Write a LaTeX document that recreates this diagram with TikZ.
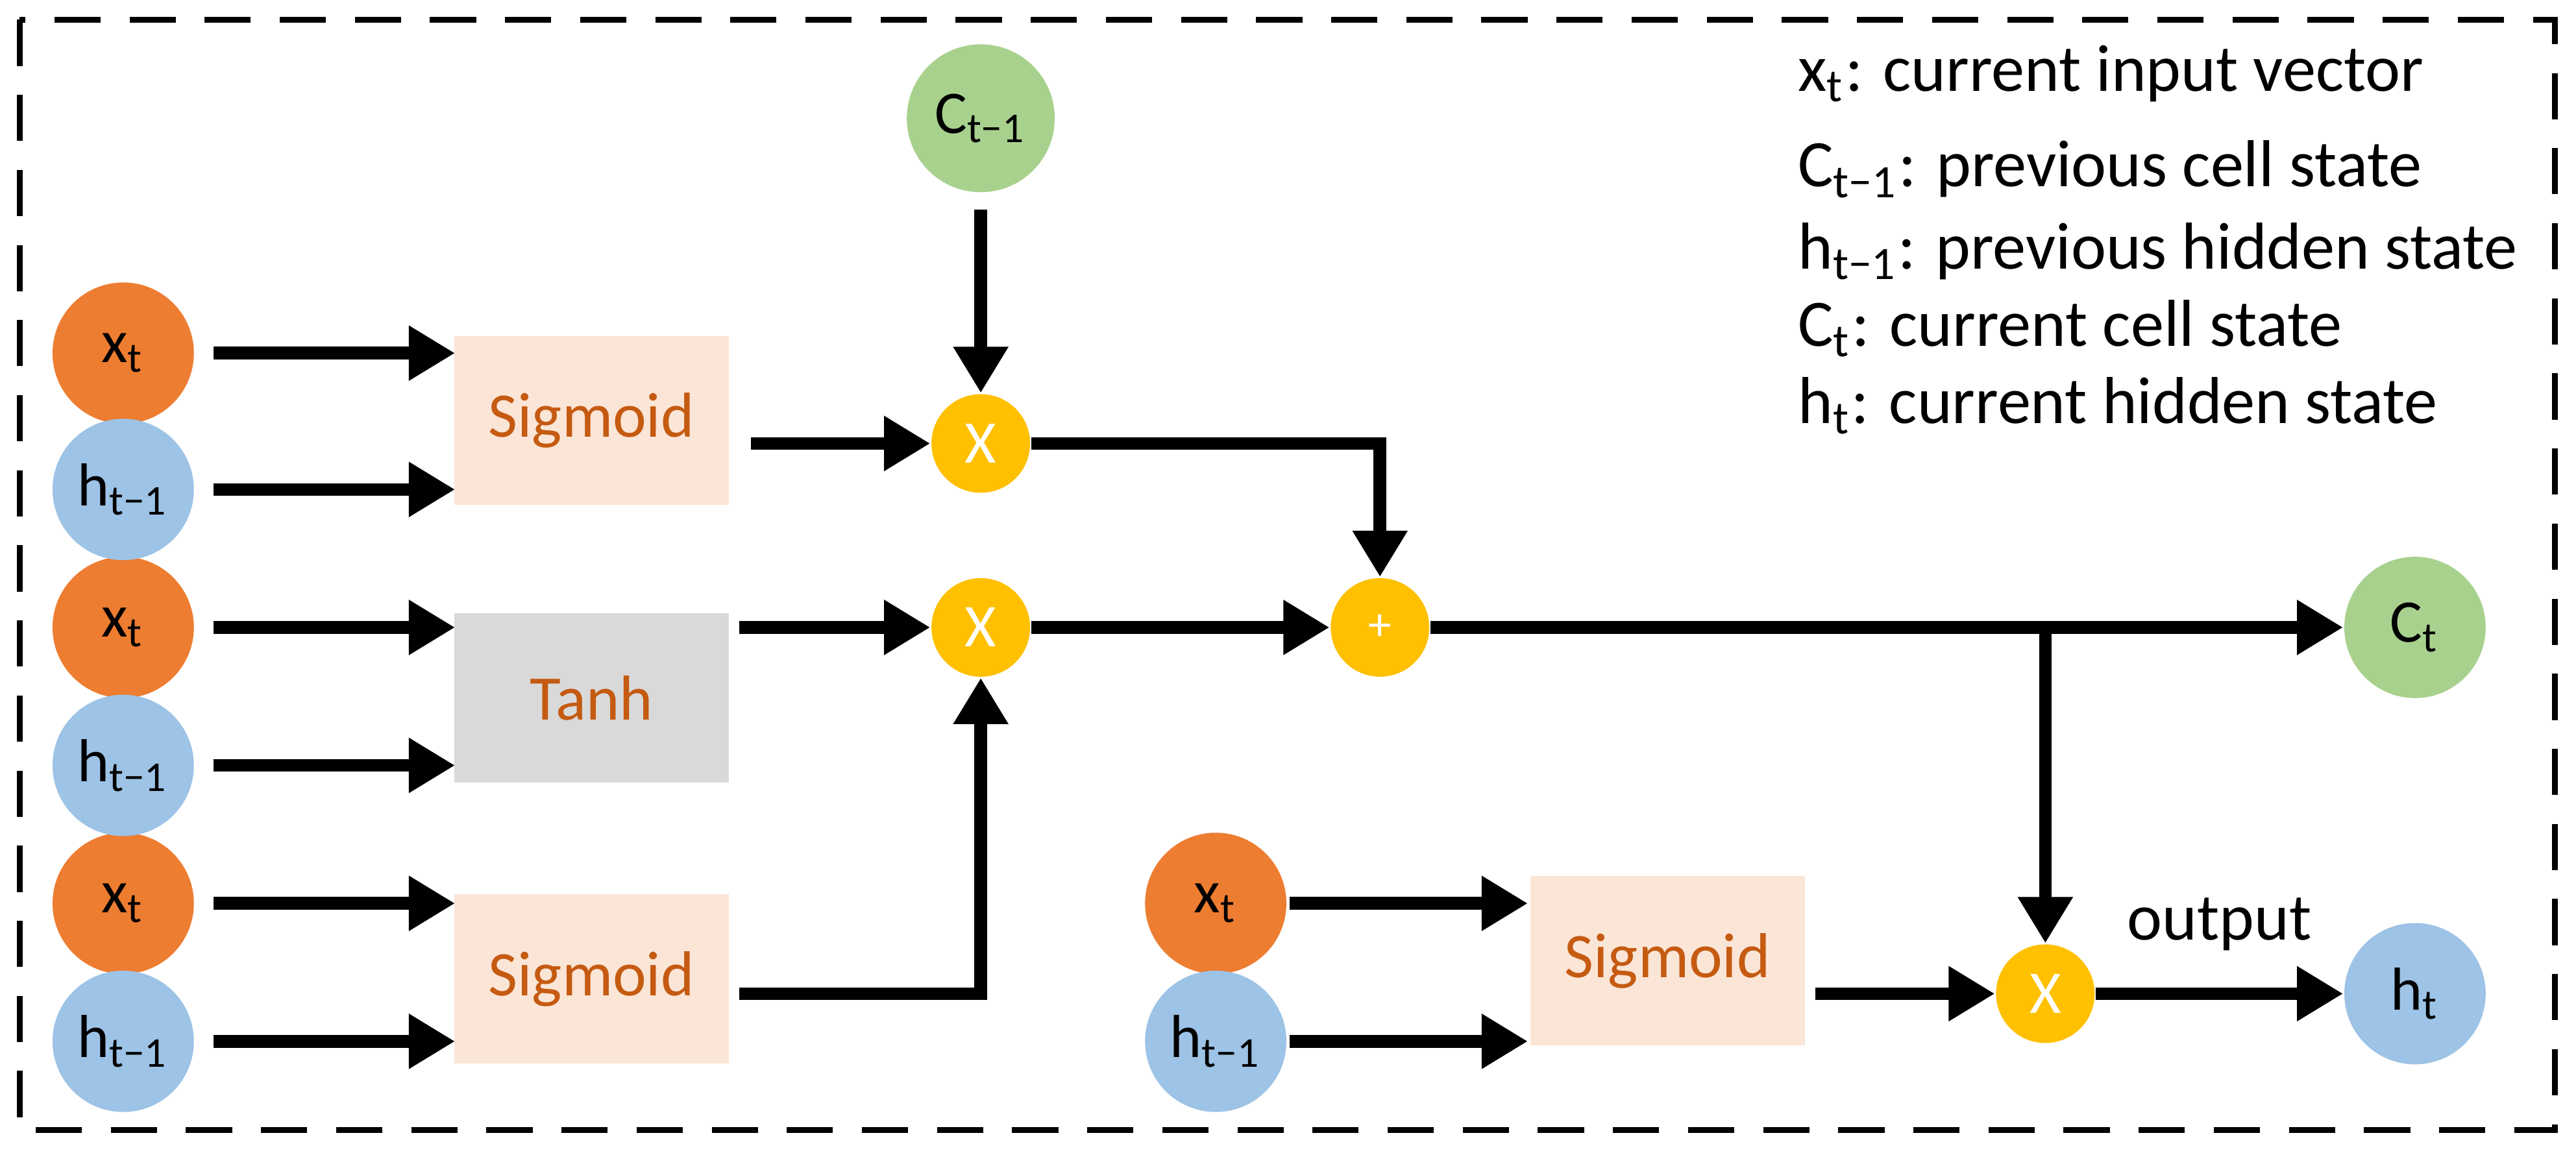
\documentclass[tikz,border=0pt]{standalone}
\usepackage{fontspec}
\setmainfont{Carlito}
\usetikzlibrary{arrows.meta}
\definecolor{cor}{HTML}{ED7D31}
\definecolor{cbl}{HTML}{9DC3E6}
\definecolor{cgr}{HTML}{A9D18E}
\definecolor{cye}{HTML}{FFC000}
\definecolor{cpe}{HTML}{FBE5D6}
\definecolor{cgy}{HTML}{D9D9D9}
\definecolor{ctx}{HTML}{C55A11}
\begin{document}
\begin{tikzpicture}[x=0.01cm,y=-0.01cm,
  every node/.style={font=\fontsize{10.5}{12}\selectfont},
  inp/.style={circle,minimum size=0.86cm,inner sep=0pt},
  xin/.style={inp,fill=cor},
  hin/.style={inp,fill=cbl},
  op/.style={circle,fill=cye,minimum size=0.6cm,inner sep=0pt,text=white},
  box/.style={minimum width=1.67cm,minimum height=1.03cm,text=ctx,font=\fontsize{11}{13}\selectfont},
  arr/.style={line width=2.2pt,-{Triangle[length=8pt,width=9pt]}},
  leg/.style={anchor=west,font=\fontsize{11.5}{14}\selectfont}]
\useasboundingbox (0,0) rectangle (1568,703);
\draw[dashed,line width=1pt,dash pattern=on 8pt off 5pt] (12,12) rectangle (1555,688);
\foreach \i/\y in {1/215,3/382,5/550}{\node[xin] (l\i) at (75,\y) {x\textsubscript{t}};}
\foreach \i/\y in {2/298,4/466,6/634}{\node[hin] (l\i) at (75,\y) {h\textsubscript{t−1}};}
\node[box,fill=cpe] (s1) at (360,256) {Sigmoid};
\node[box,fill=cgy] (th) at (360,425) {Tanh};
\node[box,fill=cpe] (s3) at (360,596) {Sigmoid};
\foreach \i/\y in {1/215,2/298,3/382,4/466,5/550,6/634}{
  \coordinate (a\i) at (130,\y); \coordinate (b\i) at (277,\y);
  \draw[arr] (a\i) -- (b\i);}
\node[inp,fill=cgr,minimum size=0.9cm] (cp) at (597,72) {C\textsubscript{t−1}};
\node[op] (m1) at (597,270) {X};
\node[op] (m2) at (597,382) {X};
\node[op,font=\fontsize{8}{9}\selectfont] (pl) at (840,382) {+};
\node[op] (m3) at (1245,605) {X};
\node[inp,fill=cgr] (ct) at (1470,382) {C\textsubscript{t}};
\node[hin] (ht) at (1470,605) {h\textsubscript{t}};
\node[xin] (bx) at (740,550) {x\textsubscript{t}};
\node[hin] (bh) at (740,634) {h\textsubscript{t−1}};
\node[box,fill=cpe] (s4) at (1015,585) {Sigmoid};
\draw[arr] (457,270) -- (m1);
\draw[arr] (cp.south)++(0,10) -- (m1);
\draw[arr] (m1.east) -| (pl);
\draw[arr] (450,382) -- (m2);
\draw[arr] (m2) -- (pl);
\draw[arr] (450,605) -| (m2);
\draw[arr] (pl) -- (ct);
\draw[arr] (1245,382) -- (m3);
\draw[arr] (785,550) -- (930,550);
\draw[arr] (785,634) -- (930,634);
\draw[arr] (1105,605) -- (m3);
\draw[arr] (m3) -- (ht) node[midway,above=3pt,font=\fontsize{11.5}{14}\selectfont] {output};
\node[leg] (g1) at (1082,45) {x\textsubscript{t}: current input vector};
\node[leg] (g2) at (1082,103) {C\textsubscript{t−1}: previous cell state};
\node[leg] (g3) at (1082,153) {h\textsubscript{t−1}: previous hidden state};
\node[leg] (g4) at (1082,200) {C\textsubscript{t}: current cell state};
\node[leg] (g5) at (1082,247) {h\textsubscript{t}: current hidden state};
\end{tikzpicture}
\end{document}
